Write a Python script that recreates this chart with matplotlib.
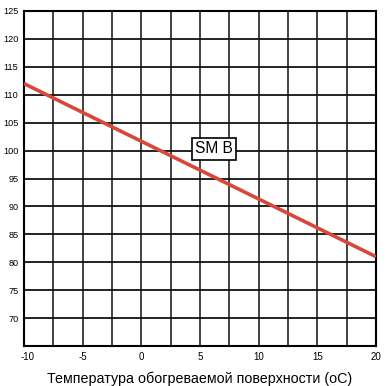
import matplotlib
matplotlib.use("Agg")
import matplotlib.pyplot as plt
import matplotlib.transforms as mtransforms
import numpy as np

plt.rcParams['font.family'] = ['Liberation Sans', 'DejaVu Sans']

x_vals = [-10, 20]
y_vals = [112, 81]
x_ticks = [-10, -5, 0, 5, 10, 15, 20]
y_ticks = [70, 75, 80, 85, 90, 95, 100, 105, 110, 115, 120, 125]
label_text = "SM B"
xlabel = "Температура обогреваемой поверхности (оС)"

fig = plt.figure(figsize=(3.9, 3.86), dpi=100)
ax = fig.add_axes([24/390, 40/386, 352/390, 335/386])
ax.set_xlim(-10, 20)
ax.set_ylim(65, 125)

for xv in np.arange(-10, 20.01, 2.5):
    ax.axvline(xv, color='#333333', lw=1.3, zorder=1)
for yv in np.arange(65, 125.01, 5):
    ax.axhline(yv, color='#111111', lw=1.3, zorder=1)

ax.plot(x_vals, y_vals, color='#d9473b', lw=2.6, zorder=3, solid_capstyle='butt')

ax.text(6.2, 100.3, label_text, fontsize=11.2, ha='center', va='center', zorder=4,
        bbox=dict(boxstyle='square,pad=0.22', fc='white', ec='black', lw=1.2))

ax.set_xticks(x_ticks)
ax.set_xticklabels([str(t) for t in x_ticks], fontsize=7)
ax.set_yticks(y_ticks)
ax.set_yticklabels([str(t) for t in y_ticks], fontsize=6.6)
ax.tick_params(length=0, pad=4)
first = ax.get_xticklabels()[0]
first.set_transform(first.get_transform() + mtransforms.ScaledTranslation(4/100, 0, fig.dpi_scale_trans))
for s in ax.spines.values():
    s.set_linewidth(1.5)
    s.set_color('black')
ax.set_xlabel(xlabel, fontsize=10.3, labelpad=7)

fig.savefig("out.png", dpi=100)
